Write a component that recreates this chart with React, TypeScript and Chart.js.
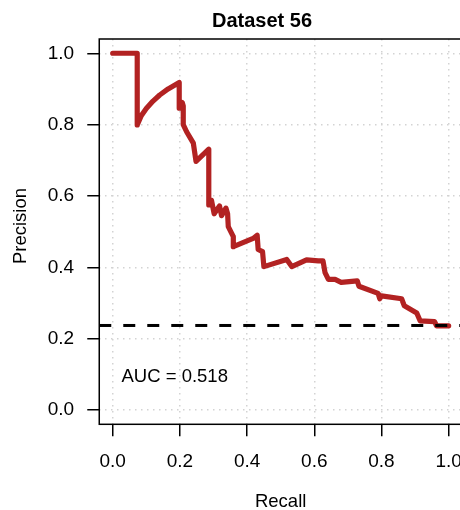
import { useEffect, useRef } from 'react';
import { Chart, registerables } from 'chart.js';

Chart.register(...registerables);

// ---- data ----
const recall = [
  0.0, 0.073, 0.073, 0.085, 0.1, 0.12, 0.14, 0.165, 0.198, 0.198, 0.207, 0.21, 0.21, 0.22,
  0.24, 0.248, 0.286, 0.286, 0.294, 0.302, 0.318, 0.324, 0.337, 0.342, 0.344, 0.359, 0.359,
  0.418, 0.43, 0.433, 0.446, 0.45, 0.518, 0.533, 0.577, 0.612, 0.626, 0.632, 0.642, 0.662,
  0.68, 0.728, 0.733, 0.79, 0.795, 0.8, 0.86, 0.868, 0.905, 0.915, 0.958, 0.964, 1.0,
];
const precision = [
  1.0, 1.0, 0.799, 0.825, 0.845, 0.866, 0.883, 0.9, 0.918, 0.846, 0.862, 0.852, 0.8, 0.78,
  0.748, 0.697, 0.731, 0.575, 0.588, 0.55, 0.572, 0.545, 0.566, 0.55, 0.514, 0.486, 0.458,
  0.481, 0.49, 0.45, 0.444, 0.402, 0.422, 0.402, 0.421, 0.418, 0.418, 0.385, 0.366, 0.366,
  0.358, 0.362, 0.347, 0.327, 0.312, 0.32, 0.312, 0.292, 0.272, 0.25, 0.248, 0.236, 0.236,
];
const baseline = 0.237;
const xTicks = [0, 0.2, 0.4, 0.6, 0.8, 1.0];
const yTicks = [0, 0.2, 0.4, 0.6, 0.8, 1.0];
const xTickLabels = ['0.0', '0.2', '0.4', '0.6', '0.8', '1.0'];
const yTickLabels = ['0.0', '0.2', '0.4', '0.6', '0.8', '1.0'];
const axisMin = -0.04;
const axisMax = 1.04;
const titleText = 'Dataset 56';
const xLabel = 'Recall';
const yLabel = 'Precision';
const aucText = 'AUC = 0.518';

const FONT = '"Liberation Sans", Arial, sans-serif';
const CANVAS_W = 480;
const CANVAS_H = 510;

const textPlugin = {
  id: 'rtext',
  afterDraw(chart: any) {
    const { ctx, chartArea } = chart;
    ctx.save();
    // box
    ctx.strokeStyle = '#000';
    ctx.lineWidth = 1.5;
    ctx.setLineDash([]);
    ctx.strokeRect(chartArea.left, chartArea.top, chartArea.right - chartArea.left, chartArea.bottom - chartArea.top);
    // title
    ctx.fillStyle = '#000';
    ctx.font = `bold 20px ${FONT}`;
    ctx.textAlign = 'center';
    ctx.textBaseline = 'middle';
    ctx.fillText(titleText, 262, 21);
    // AUC
    ctx.font = `18.5px ${FONT}`;
    ctx.textAlign = 'left';
    ctx.fillText(aucText, 121.5, 377);
    // y label
    ctx.translate(21, 226);
    ctx.rotate(-Math.PI / 2);
    ctx.textAlign = 'center';
    ctx.fillText(yLabel, 0, 0);
    ctx.restore();
  },
};

export default function App() {
  const ref = useRef<HTMLCanvasElement | null>(null);

  useEffect(() => {
    if (!ref.current) return;
    const tickFont = { family: FONT, size: 19 };
    const chart = new Chart(ref.current, {
      type: 'scatter',
      data: {
        datasets: [
          {
            label: 'baseline',
            data: [
              { x: axisMin, y: baseline },
              { x: axisMax, y: baseline },
            ],
            showLine: true,
            borderColor: '#000',
            borderWidth: 3,
            borderDash: [12, 12],
            pointRadius: 0,
          },
          {
            label: 'PR',
            data: recall.map((r, i) => ({ x: r, y: precision[i] })),
            showLine: true,
            borderColor: '#B22222',
            borderWidth: 5.2,
            borderCapStyle: 'round',
            borderJoinStyle: 'round',
            pointRadius: 0,
            tension: 0,
          },
        ],
      },
      options: {
        animation: false,
        responsive: false,
        devicePixelRatio: 1,
        layout: { padding: { left: 0, right: CANVAS_W - 462.1, top: 39, bottom: 0 } },
        plugins: {
          legend: { display: false },
          tooltip: { enabled: false },
          title: { display: false },
        },
        scales: {
          x: {
            type: 'linear',
            min: axisMin,
            max: axisMax,
            z: 1,
            afterBuildTicks: (s: any) => {
              s.ticks = xTicks.map((v) => ({ value: v }));
            },
            afterFit: (s: any) => {
              s.height = CANVAS_H - 424.3;
            },
            ticks: {
              autoSkip: false,
              maxRotation: 0,
              minRotation: 0,
              padding: 14.2,
              color: '#000',
              font: tickFont,
              callback: (v: any) => {
                const i = xTicks.indexOf(Number(v));
                return i >= 0 ? xTickLabels[i] : '';
              },
            },
            grid: {
              color: '#D3D3D3',
              lineWidth: 1.5,
              drawTicks: true,
              tickLength: 12,
              tickColor: '#000',
              tickWidth: 1.5,
              tickBorderDash: [],
            },
            border: { display: false, dash: [1.5, 4.5] },
            title: {
              display: true,
              text: xLabel,
              color: '#000',
              font: { family: FONT, size: 18.5, lineHeight: '16px' },
              padding: { top: 0, bottom: 0 },
            },
          },
          y: {
            type: 'linear',
            min: axisMin,
            max: axisMax,
            z: 1,
            afterBuildTicks: (s: any) => {
              s.ticks = yTicks.map((v) => ({ value: v }));
            },
            afterFit: (s: any) => {
              s.width = 99.26;
            },
            ticks: {
              autoSkip: false,
              padding: 13.2,
              color: '#000',
              font: tickFont,
              callback: (v: any) => {
                const i = yTicks.indexOf(Number(v));
                return i >= 0 ? yTickLabels[i] : '';
              },
            },
            grid: {
              color: '#D3D3D3',
              lineWidth: 1.5,
              drawTicks: true,
              tickLength: 12,
              tickColor: '#000',
              tickWidth: 1.5,
              tickBorderDash: [],
            },
            border: { display: false, dash: [1.5, 4.5] },
          },
        },
      } as any,
      plugins: [textPlugin],
    });
    return () => chart.destroy();
  }, []);

  return (
    <div
      style={{
        position: 'fixed',
        left: 0,
        top: 0,
        width: 460,
        height: 510,
        overflow: 'hidden',
        background: '#fff',
      }}
    >
      <canvas ref={ref} width={CANVAS_W} height={CANVAS_H} style={{ display: 'block', width: CANVAS_W, height: CANVAS_H }} />
    </div>
  );
}
